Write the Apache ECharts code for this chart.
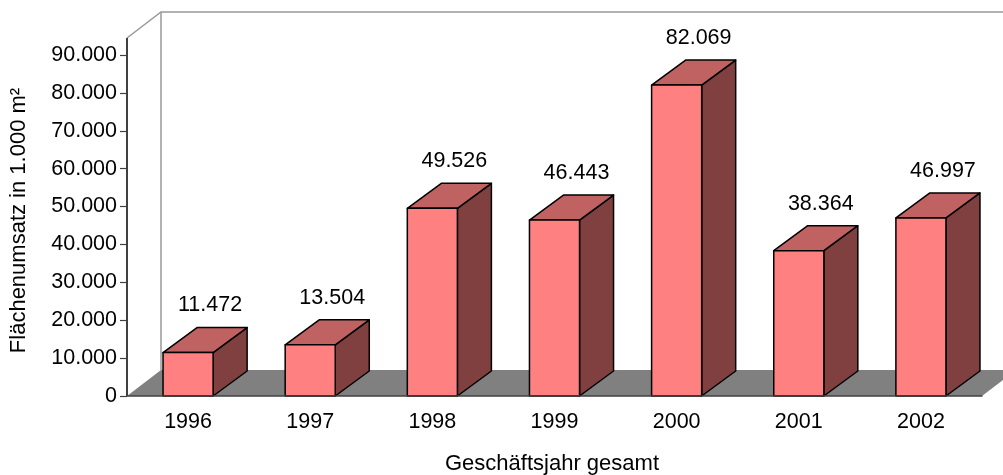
<!DOCTYPE html>
<html>
<head>
<meta charset="utf-8">
<script src="https://cdn.jsdelivr.net/npm/echarts@6/dist/echarts.min.js"></script>
<style>
  html, body { margin: 0; padding: 0; background: #fff; }
  #chart { width: 1003px; height: 475px; }
</style>
</head>
<body>
<div id="chart"></div>
<script>
// Annual floor-space turnover (in 1,000 m²)
const categories = ['1996', '1997', '1998', '1999', '2000', '2001', '2002'];
const values = [11472, 13504, 49526, 46443, 82069, 38364, 46997];
const yTickMax = 90000;
const yTickStep = 10000;

const FONT = 'Liberation Sans, Arial, sans-serif';
const FRONT = '#FF8080';
const TOP = '#C06262';
const SIDE = '#804040';
const WALL_LINE = '#999999';
const AXIS_LINE = '#404040';

// oblique depth of the boxes and of the floor / back wall
const BAR_DX = 34, BAR_DY = -25;
const FLOOR_DX = 34, FLOOR_DY = -26;
const FRONT_OVERHANG = 17; // front axis edge rises above the top tick

function fmt(v) {
  return String(v).replace(/\B(?=(\d{3})+(?!\d))/g, '.');
}

// floor, back wall edges and the value axis line
function renderFrame(params, api) {
  const cs = params.coordSys;
  const x = cs.x, y = cs.y, w = cs.width, yb = cs.y + cs.height;
  const frontTop = y - FRONT_OVERHANG;
  const backTop = frontTop + FLOOR_DY;
  return {
    type: 'group',
    children: [
      {
        type: 'polyline',
        shape: { points: [[x + FLOOR_DX, yb + FLOOR_DY], [x + FLOOR_DX, backTop]] },
        style: { stroke: WALL_LINE, lineWidth: 1.5, fill: null }
      },
      {
        type: 'polyline',
        shape: { points: [[x, frontTop], [x + FLOOR_DX, backTop], [x + w + FLOOR_DX + 40, backTop]] },
        style: { stroke: WALL_LINE, lineWidth: 1.5, fill: null }
      },
      {
        type: 'polygon',
        shape: { points: [[x, yb], [x + w, yb], [x + w + FLOOR_DX, yb + FLOOR_DY], [x + FLOOR_DX, yb + FLOOR_DY]] },
        style: { fill: '#808080', stroke: null }
      },
      {
        type: 'line',
        shape: { x1: x, y1: frontTop, x2: x, y2: yb },
        style: { stroke: AXIS_LINE, lineWidth: 2 }
      }
    ]
  };
}

// one 3D column: side, top, front face and its value label
function renderBar(params, api) {
  const idx = api.value(0);
  const val = api.value(1);
  const base = api.coord([idx, 0]);
  const top = api.coord([idx, val]);
  const w = api.size([1, 0])[0] * 0.41;
  const x0 = base[0] - w / 2, x1 = base[0] + w / 2;
  const y0 = base[1], y1 = top[1];
  const dx = BAR_DX, dy = BAR_DY;
  const edge = { stroke: '#000', lineWidth: 1.5, lineJoin: 'round' };
  return {
    type: 'group',
    children: [
      {
        type: 'polygon',
        shape: { points: [[x1, y0], [x1 + dx, y0 + dy], [x1 + dx, y1 + dy], [x1, y1]] },
        style: Object.assign({ fill: SIDE }, edge)
      },
      {
        type: 'polygon',
        shape: { points: [[x0, y1], [x1, y1], [x1 + dx, y1 + dy], [x0 + dx, y1 + dy]] },
        style: Object.assign({ fill: TOP }, edge)
      },
      {
        type: 'rect',
        shape: { x: x0, y: y1, width: w, height: y0 - y1 },
        style: Object.assign({ fill: FRONT }, edge)
      },
      {
        type: 'text',
        x: base[0] + dx / 2 + 5,
        y: y1 + dy - 22,
        style: {
          text: fmt(val),
          font: '21.5px ' + FONT,
          fill: '#000',
          align: 'center',
          verticalAlign: 'middle'
        }
      }
    ]
  };
}

const chart = echarts.init(document.getElementById('chart'), null, { renderer: 'canvas' });
chart.setOption({
  animation: false,
  backgroundColor: '#fff',
  grid: { left: 127, right: 21, top: 55, bottom: 79, containLabel: false },
  graphic: [
    {
      type: 'text',
      x: 19, y: 220.5,
      rotation: Math.PI / 2,
      style: { text: 'Flächenumsatz in 1.000 m²', font: '22px ' + FONT, fill: '#000', align: 'center', verticalAlign: 'middle' }
    },
    {
      type: 'text',
      x: 552, y: 464,
      style: { text: 'Geschäftsjahr gesamt', font: '22px ' + FONT, fill: '#000', align: 'center', verticalAlign: 'middle' }
    }
  ],
  xAxis: {
    type: 'category',
    data: categories,
    z: 5,
    axisLine: { lineStyle: { color: AXIS_LINE, width: 1.5 } },
    axisTick: { length: 6, lineStyle: { color: AXIS_LINE, width: 1.2 } },
    axisLabel: { margin: 15, fontFamily: FONT, fontSize: 21.5, color: '#000' },
    splitLine: { show: false }
  },
  yAxis: {
    type: 'value',
    min: 0,
    max: yTickMax,
    interval: yTickStep,
    axisLine: { show: false },
    axisTick: { show: true, length: 7, lineStyle: { color: AXIS_LINE, width: 1.2 } },
    axisLabel: { margin: 10, fontFamily: FONT, fontSize: 21.5, color: '#000', formatter: fmt },
    splitLine: { show: false }
  },
  series: [
    {
      type: 'custom',
      name: 'frame',
      z: 1,
      silent: true,
      data: [[0, 0]],
      renderItem: renderFrame
    },
    {
      type: 'custom',
      name: 'Flächenumsatz',
      z: 3,
      data: values.map((v, i) => [i, v]),
      renderItem: renderBar
    }
  ]
});
</script>
</body>
</html>
